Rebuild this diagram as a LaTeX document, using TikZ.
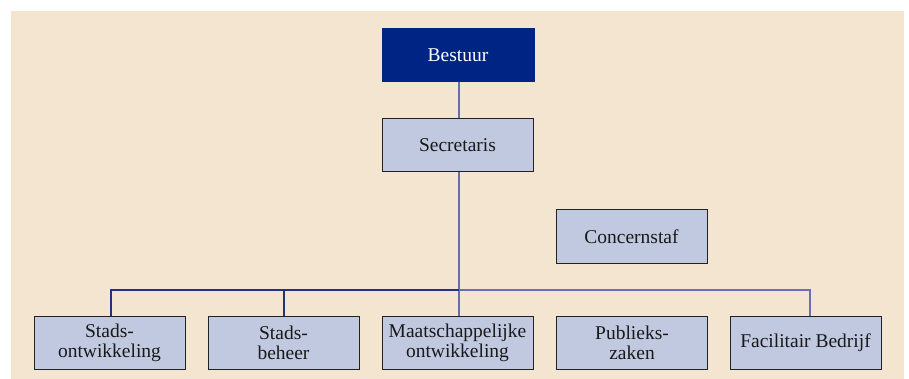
\documentclass[tikz,border=0pt]{standalone}
\usepackage{fontspec}
\setmainfont{Liberation Serif}
\definecolor{bgbeige}{HTML}{F4E5D1}
\definecolor{navy}{HTML}{002484}
\definecolor{boxfill}{HTML}{C1C9E0}
\definecolor{boxline}{HTML}{222222}
\definecolor{linedark}{HTML}{22327F}
\definecolor{linelight}{HTML}{6670AF}
\begin{document}
\begin{tikzpicture}[x=1pt,y=-1pt,
  orgbox/.style={draw=boxline, line width=1pt, fill=boxfill, rectangle,
    minimum width=151pt, minimum height=53pt, inner sep=0pt, align=center,
    font=\fontsize{19.5}{20}\selectfont, text=black!90},
  topbox/.style={orgbox, draw=navy, fill=navy, text=white},
  darkline/.style={draw=linedark, line width=1.1pt},
  lightline/.style={draw=linelight, line width=1.2pt}]
\useasboundingbox (0,0) rectangle (909,379);
\fill[bgbeige] (11,11) rectangle (904,379);
\node[topbox, minimum width=152pt] (best) at (458,55.5) {Bestuur};
\node[orgbox] (sec) at (457.5,145.5) {Secretaris};
\node[orgbox] (cs) at (631.5,236.5) {Concernstaf};
\node[orgbox] (so) at (109.5,342.5) {Stads-\\ontwikkeling};
\node[orgbox] (sb) at (283.5,342.5) {Stads-\\beheer};
\node[orgbox] (mo) at (457.5,342.5) {Maatschappelijke\\ontwikkeling};
\node[orgbox] (pz) at (632,342.5) {Publieks-\\zaken};
\node[orgbox] (fb) at (805.5,342.5) {Facilitair Bedrijf};
\coordinate (bus) at (0,290);
\coordinate (fbtop) at ([xshift=4.5pt]fb.north);
\coordinate (sbtop) at ([xshift=0.5pt]sb.north);
\draw[lightline] ([xshift=1pt]best.south) -- ([xshift=1.5pt]sec.north);
\draw[lightline] ([xshift=1.5pt]sec.south) -- ([xshift=1.5pt]mo.north);
\draw[darkline] ([xshift=1.5pt]so.north) |- ([xshift=1.5pt]mo.north |- bus);
\draw[darkline] (sbtop) -- (sbtop |- bus);
\draw[lightline] ([xshift=1.5pt]mo.north |- bus) -| (fbtop);
\end{tikzpicture}
\end{document}
